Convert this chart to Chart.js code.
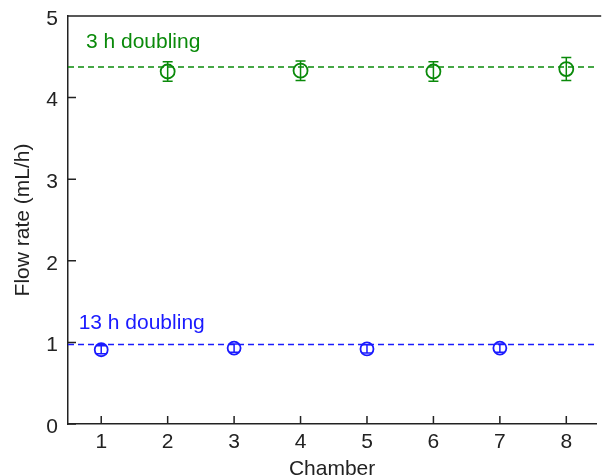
<!DOCTYPE html>
<html>
<head>
<meta charset="utf-8">
<script src="https://cdn.jsdelivr.net/npm/chart.js@4.4.1/dist/chart.umd.min.js"></script>
<style>
  html, body { margin: 0; padding: 0; background: #fff; overflow: hidden; }
</style>
</head>
<body>
<canvas id="chartFlow" width="605" height="476"></canvas>
<script>
// data
const xTicks = [1, 2, 3, 4, 5, 6, 7, 8];
const yTicks = [0, 1, 2, 3, 4, 5];

const fastChambers = [2, 4, 6, 8];
const fastFlow = [4.32, 4.33, 4.32, 4.35];
const fastErr = [0.12, 0.12, 0.12, 0.14];
const fastTarget = 4.375;

const slowChambers = [1, 3, 5, 7];
const slowFlow = [0.91, 0.93, 0.92, 0.93];
const slowErr = [0.05, 0.05, 0.05, 0.05];
const slowTarget = 0.975;

const GREEN = '#0a8a0a';
const BLUE = '#1a1aff';
const AXIS = '#222';
const FONT = "'Liberation Sans', Arial, sans-serif";
const FS = 21;

const X_MIN = 0.5, X_MAX = 8.45;

const toPoints = (xs, ys) => xs.map((x, i) => ({ x: x, y: ys[i] }));

// error bars, inward ticks, top border and the two text labels
const extras = {
  id: 'extras',
  afterDatasetsDraw(chart) {
    const ctx = chart.ctx;
    const xs = chart.scales.x, ys = chart.scales.y;
    const area = chart.chartArea;

    function bars(chs, vals, errs, color) {
      ctx.save();
      ctx.strokeStyle = color;
      ctx.lineWidth = 1.5;
      chs.forEach((c, i) => {
        const px = xs.getPixelForValue(c);
        const top = ys.getPixelForValue(vals[i] + errs[i]);
        const bot = ys.getPixelForValue(vals[i] - errs[i]);
        ctx.beginPath();
        ctx.moveTo(px, top); ctx.lineTo(px, bot);
        ctx.moveTo(px - 5, top); ctx.lineTo(px + 5, top);
        ctx.moveTo(px - 5, bot); ctx.lineTo(px + 5, bot);
        ctx.stroke();
      });
      ctx.restore();
    }
    bars(fastChambers, fastFlow, fastErr, GREEN);
    bars(slowChambers, slowFlow, slowErr, BLUE);

    ctx.save();
    ctx.strokeStyle = AXIS;
    ctx.lineWidth = 1.5;
    ctx.beginPath();
    // top border
    ctx.moveTo(area.left, area.top); ctx.lineTo(area.right + 5, area.top);
    // inward ticks
    xTicks.forEach(v => {
      const px = xs.getPixelForValue(v);
      ctx.moveTo(px, area.bottom); ctx.lineTo(px, area.bottom - 8);
    });
    yTicks.forEach(v => {
      const py = ys.getPixelForValue(v);
      ctx.moveTo(area.left, py); ctx.lineTo(area.left + 8, py);
    });
    ctx.stroke();

    ctx.font = FS + 'px ' + FONT;
    ctx.textBaseline = 'alphabetic';
    ctx.textAlign = 'left';
    ctx.fillStyle = GREEN;
    ctx.fillText('3 h doubling', xs.getPixelForValue(0.77), ys.getPixelForValue(4.61));
    ctx.fillStyle = BLUE;
    ctx.fillText('13 h doubling', xs.getPixelForValue(0.66), ys.getPixelForValue(1.16));
    ctx.restore();
  }
};

const ctxFlow = document.getElementById('chartFlow').getContext('2d');
new Chart(ctxFlow, {
  type: 'scatter',
  data: {
    datasets: [
      {
        type: 'line',
        data: toPoints([X_MIN, X_MAX], [fastTarget, fastTarget]),
        borderColor: GREEN,
        borderWidth: 1.5,
        borderDash: [6, 4],
        pointRadius: 0
      },
      {
        type: 'line',
        data: toPoints([X_MIN, X_MAX], [slowTarget, slowTarget]),
        borderColor: BLUE,
        borderWidth: 1.5,
        borderDash: [6, 4],
        pointRadius: 0
      },
      {
        data: toPoints(fastChambers, fastFlow),
        borderColor: GREEN,
        backgroundColor: 'rgba(0,0,0,0)',
        borderWidth: 1.8,
        pointRadius: 7
      },
      {
        data: toPoints(slowChambers, slowFlow),
        borderColor: BLUE,
        backgroundColor: 'rgba(0,0,0,0)',
        borderWidth: 1.8,
        pointRadius: 6.5
      }
    ]
  },
  options: {
    responsive: false,
    animation: false,
    layout: { padding: { top: 16, right: 0, left: 0, bottom: 0 } },
    plugins: {
      legend: { display: false },
      tooltip: { enabled: false }
    },
    scales: {
      x: {
        type: 'linear',
        min: X_MIN,
        max: X_MAX,
        afterBuildTicks: s => { s.ticks = xTicks.map(v => ({ value: v })); },
        afterFit: s => { s.height = 52; },
        grid: { display: false },
        border: { display: true, color: AXIS, width: 1.5 },
        ticks: { color: AXIS, font: { family: FONT, size: FS }, padding: -2, maxRotation: 0 },
        title: { display: true, text: 'Chamber', color: AXIS, font: { family: FONT, size: FS }, padding: { top: 0, bottom: -6 } }
      },
      y: {
        min: 0,
        max: 5,
        afterBuildTicks: s => { s.ticks = yTicks.map(v => ({ value: v })); },
        afterFit: s => { s.width = 68; },
        grid: { display: false },
        border: { display: true, color: AXIS, width: 1.5 },
        ticks: { color: AXIS, font: { family: FONT, size: FS }, padding: 2, labelOffset: 3 },
        title: { display: true, text: 'Flow rate (mL/h)', color: AXIS, font: { family: FONT, size: FS }, padding: { top: 11, bottom: 0 } }
      }
    }
  },
  plugins: [extras]
});
</script>
</body>
</html>
